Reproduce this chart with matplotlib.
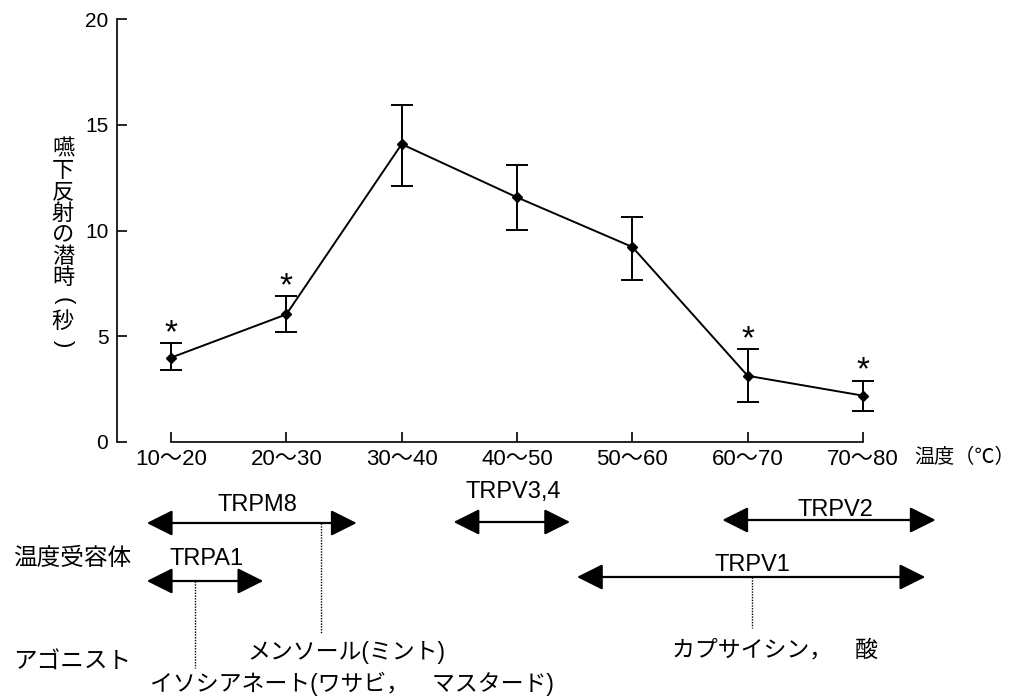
import numpy as np
import matplotlib
matplotlib.use("Agg")
import matplotlib.pyplot as plt
from matplotlib.transforms import blended_transform_factory

plt.rcParams["font.family"] = ["Liberation Sans", "Noto Sans CJK JP"]

# データ
temp_labels = ["10〜20", "20〜30", "30〜40", "40〜50", "50〜60", "60〜70", "70〜80"]
latency = [3.98, 6.03, 14.09, 11.57, 9.22, 3.12, 2.18]
err_upper = [0.68, 0.85, 1.84, 1.53, 1.42, 1.25, 0.71]
err_lower = [0.59, 0.85, 1.98, 1.55, 1.56, 1.26, 0.71]
significant = [True, True, False, False, False, True, True]

# 温度受容体の範囲 (x軸のカテゴリ位置)
receptors = ["TRPM8", "TRPA1", "TRPV3,4", "TRPV2", "TRPV1"]
receptor_start = [-0.21, -0.21, 2.45, 4.78, 3.52]
receptor_end = [1.61, 0.80, 3.46, 6.63, 6.54]

# アゴニスト
agonists = ["メンソール(ミント)", "イソシアネート(ワサビ，　マスタード)", "カプサイシン，　酸"]
agonist_receptor = ["TRPM8", "TRPA1", "TRPV1"]
agonist_link_x = [1.30, 0.21, 5.04]

W, H = 1017, 697
fig = plt.figure(figsize=(W / 100, H / 100), dpi=100)
ax = fig.add_axes([116.7 / W, 1 - 441.7 / H, (863 - 116.7) / W, (441.7 - 19.3) / H])


def fy(py):
    # 画像の上からのピクセル -> figure fraction
    return 1 - py / H


x = np.arange(len(temp_labels))
ax.errorbar(x, latency, yerr=[err_lower, err_upper], color="black", lw=1.4,
            marker="D", ms=5, capsize=8, capthick=1.4, elinewidth=1.4,
            clip_on=False)

for xi, y, up, sig in zip(x, latency, err_upper, significant):
    if sig:
        ax.annotate("*", xy=(xi, y + up), xytext=(0, -4), textcoords="offset points",
                    ha="center", va="bottom", fontsize=24)

ax.set_xlim(-0.471, 6)
ax.set_ylim(0, 20)
ax.set_yticks([0, 5, 10, 15, 20])
ax.set_xticks(x)
ax.set_xticklabels(temp_labels)
for side in ["top", "right"]:
    ax.spines[side].set_visible(False)
for side in ["left", "bottom"]:
    ax.spines[side].set_linewidth(1.2)
ax.spines["bottom"].set_bounds(0, 6)
ax.tick_params(direction="in", length=7, width=1.2, labelsize=15, pad=6)
ax.tick_params(axis="x", labelsize=16, pad=5)

fig.text(914 / W, fy(457), "温度（℃）", fontsize=14.5, ha="left", va="center")

# 縦書きの y ラベル (括弧は回転して縦書き用にする)
ylabel_chars = ["嚥", "下", "反", "射", "の", "潜", "時", "(", "秒", ")"]
for i, ch in enumerate(ylabel_chars):
    rot = -90 if ch in "()" else 0
    fig.text(63 / W, fy(150 + i * 21.5), ch, fontsize=16, ha="center", va="center",
             rotation=rot)

# 受容体の矢印
trans = blended_transform_factory(ax.transData, fig.transFigure)
arrow_y = {"TRPM8": 523, "TRPA1": 581, "TRPV3,4": 522, "TRPV2": 520, "TRPV1": 577}
label_pos = {"TRPM8": (0.746, 505), "TRPA1": (0.312, 559), "TRPV3,4": (2.966, 492),
             "TRPV2": (5.759, 510), "TRPV1": (5.039, 565)}
for name, x0, x1 in zip(receptors, receptor_start, receptor_end):
    yy = fy(arrow_y[name])
    ax.annotate("", xy=(x1, yy), xytext=(x0, yy), xycoords=trans, textcoords=trans,
                annotation_clip=False,
                arrowprops=dict(arrowstyle="<|-|>,head_length=0.8,head_width=0.4",
                                mutation_scale=20, lw=1.6, color="black",
                                shrinkA=0, shrinkB=0))
    lx, ly = label_pos[name]
    ax.text(lx, fy(ly), name, transform=trans, ha="center", va="center", fontsize=17)

# アゴニストの点線と文字
agonist_text_pos = {"TRPM8": (0.659, 652, 633), "TRPA1": (-0.182, 684, 668),
                    "TRPV1": (4.345, 650, 628)}
for text, rec, lx_link in zip(agonists, agonist_receptor, agonist_link_x):
    tx, ty, yend = agonist_text_pos[rec]
    ax.plot([lx_link, lx_link], [fy(arrow_y[rec]), fy(yend)], transform=trans,
            color="black", lw=1.0, ls=(0, (1, 1)), clip_on=False)
    ax.text(tx, fy(ty), text, transform=trans, ha="left", va="center", fontsize=16.5)

fig.text(13 / W, fy(559), "温度受容体", fontsize=17, ha="left", va="center")
fig.text(13 / W, fy(663), "アゴニスト", fontsize=17, ha="left", va="center")

fig.savefig("out.png", dpi=100)
